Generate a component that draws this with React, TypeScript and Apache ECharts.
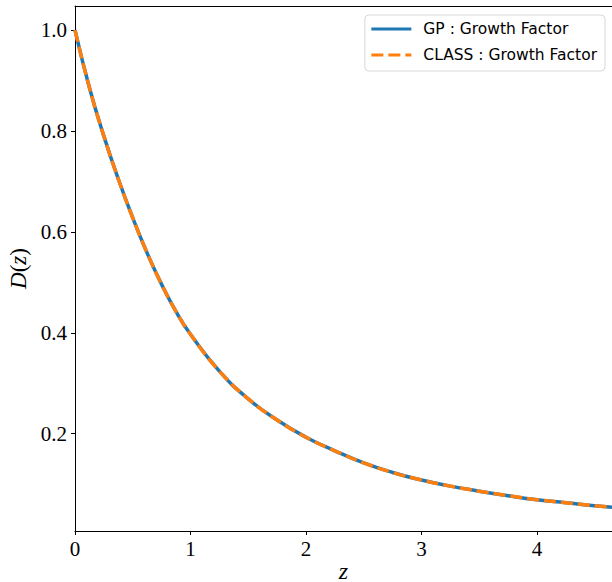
import React, { useEffect, useRef } from "react";
import * as echarts from "echarts";

const zValues = [0, 0.125, 0.25, 0.375, 0.5, 0.625, 0.75, 0.875, 1.0, 1.25, 1.5, 1.75, 2.0, 2.25, 2.5, 2.75, 3.0, 3.25, 3.5, 3.75, 4.0, 4.25, 4.5, 4.65];
const gpGrowth = [1.0, 0.886, 0.79, 0.705, 0.628, 0.558, 0.496, 0.442, 0.397, 0.324, 0.269, 0.227, 0.193, 0.166, 0.142, 0.123, 0.108, 0.096, 0.086, 0.077, 0.069, 0.063, 0.057, 0.054];
const classGrowth = [1.0, 0.886, 0.79, 0.705, 0.628, 0.558, 0.496, 0.442, 0.397, 0.324, 0.269, 0.227, 0.193, 0.166, 0.142, 0.123, 0.108, 0.096, 0.086, 0.077, 0.069, 0.063, 0.057, 0.054];
const xTicks = [0, 1, 2, 3, 4];
const yTicks = [0.2, 0.4, 0.6, 0.8, 1.0];
const seriesNames = ["GP : Growth Factor", "CLASS : Growth Factor"];

const serif = "Liberation Serif";

export default function App() {
  const ref = useRef<HTMLDivElement>(null);
  useEffect(() => {
    const chart = echarts.init(ref.current as HTMLDivElement, null, { renderer: "svg" });
    chart.setOption({
      animation: false,
      backgroundColor: "#fff",
      grid: { left: 75, right: 0, top: 6, bottom: 51, containLabel: false, outerBoundsMode: "none" },
      legend: {
        data: seriesNames,
        orient: "vertical",
        right: 7,
        top: 15,
        itemWidth: 40,
        itemHeight: 14,
        itemGap: 8,
        padding: [5, 8, 7, 5],
        borderColor: "#d8d8d8",
        borderWidth: 1,
        borderRadius: 4,
        backgroundColor: "rgba(255,255,255,0.8)",
        itemStyle: { opacity: 0 },
        lineStyle: { width: 3 },
        textStyle: { fontFamily: "DejaVu Sans", fontSize: 15.5, lineHeight: 18, color: "#000", padding: [0, 0, 0, 7] },
      },
      xAxis: [
        {
          type: "value",
          min: 0,
          max: 4.65,
          position: "bottom",
          axisLine: { show: true, onZero: false, lineStyle: { color: "#000", width: 1 } },
          axisTick: { show: true, length: 4, customValues: xTicks, lineStyle: { color: "#000" } },
          axisLabel: { customValues: xTicks, fontFamily: serif, fontSize: 21, color: "#000", margin: 7 },
          splitLine: { show: false },
          name: "z",
          nameLocation: "middle",
          nameGap: 30,
          nameMoveOverlap: false,
          nameTextStyle: { fontFamily: serif, fontStyle: "italic", fontSize: 24, lineHeight: 20, color: "#000" },
        },
        {
          type: "value",
          min: 0,
          max: 4.65,
          position: "top",
          axisLine: { show: true, onZero: false, lineStyle: { color: "#000", width: 1 } },
          axisTick: { show: false },
          axisLabel: { show: false },
          splitLine: { show: false },
        },
      ],
      yAxis: {
        type: "value",
        min: 0.007,
        max: 1.048,
        axisLine: { show: true, onZero: false, lineStyle: { color: "#000", width: 1 } },
        axisTick: { show: true, length: 4, customValues: yTicks, lineStyle: { color: "#000" } },
        axisLabel: {
          customValues: yTicks,
          formatter: (v: number) => v.toFixed(1),
          fontFamily: serif,
          fontSize: 21,
          color: "#000",
          margin: 8,
        },
        splitLine: { show: false },
        name: "{i|D}{n|(}{i|z}{n|)}",
        nameLocation: "middle",
        nameGap: 43,
        nameTextStyle: {
          color: "#000",
          rich: {
            i: { fontFamily: serif, fontStyle: "italic", fontSize: 23, color: "#000" },
            n: { fontFamily: serif, fontSize: 23, color: "#000" },
          },
        },
      },
      series: [
        {
          name: seriesNames[0],
          type: "line",
          xAxisIndex: 0,
          data: zValues.map((z, i) => [z, gpGrowth[i]]),
          smooth: 0.5,
          symbol: "none",
          showSymbol: false,
          lineStyle: { color: "#1f77b4", width: 3.5 },
          itemStyle: { color: "#1f77b4" },
        },
        {
          name: seriesNames[1],
          type: "line",
          xAxisIndex: 0,
          data: zValues.map((z, i) => [z, classGrowth[i]]),
          smooth: 0.5,
          symbol: "none",
          showSymbol: false,
          lineStyle: { color: "#ff7f0e", width: 3.5, type: [12, 5] },
          itemStyle: { color: "#ff7f0e" },
        },
      ],
    });
    return () => chart.dispose();
  }, []);
  return (
    <div
      ref={ref}
      style={{ position: "fixed", left: 0, top: 0, width: 612, height: 582, background: "#fff" }}
    />
  );
}
